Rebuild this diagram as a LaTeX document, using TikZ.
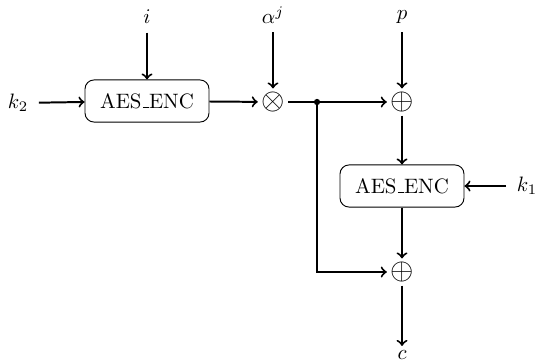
\documentclass[tikz,border=0pt]{standalone}
\usetikzlibrary{arrows}
\newcommand\usc{\kern.06em\vbox{\hrule width.3em}}
\begin{document}
\begin{tikzpicture}[x=0.48pt,y=-0.48pt,
  conn/.style={->,line width=0.95pt},
  encbox/.style={draw,line width=0.45pt,rounded corners=4.3pt,minimum width=59.5pt,minimum height=20.2pt,inner sep=2pt},
  opnode/.style={inner sep=1.5pt,font=\Large},
  lbl/.style={inner sep=2pt}]
\useasboundingbox (0,0) rectangle (537,362);
\node[lbl] (k2) at (18,103) {$k_2$};
\node[encbox] (enc1) at (147,101) {AES\usc ENC};
\node[lbl] (i) at (147,17) {$i$};
\node[lbl] (alpha) at (273,15) {$\alpha^j$};
\node[opnode] (mul) at (273,102) {$\otimes$};
\node[lbl] (p) at (402,17) {$p$};
\node[opnode] (xor1) at (402,102) {$\oplus$};
\node[encbox] (enc2) at (402,186) {AES\usc ENC};
\node[lbl] (k1) at (527,186) {$k_1$};
\node[opnode] (xor2) at (402,272) {$\oplus$};
\node[lbl] (c) at (402,355) {$c$};
\coordinate (split) at (317,102);
\draw[conn,shorten <=3pt] (k2) -- (enc1);
\draw[conn,shorten <=2pt] (i) -- (enc1);
\draw[conn,shorten <=2pt] (alpha) -- (mul);
\draw[conn] (enc1) -- (mul);
\draw[conn] (mul) -- (xor1);
\draw[conn,shorten <=2pt] (p) -- (xor1);
\draw[conn] (xor1) -- (enc2);
\draw[conn,shorten <=3pt] (k1) -- (enc2);
\draw[conn] (enc2) -- (xor2);
\draw[conn] (split) |- (xor2);
\draw[conn] (xor2) -- (c);
\fill (split) circle (1.5pt);
\end{tikzpicture}
\end{document}
